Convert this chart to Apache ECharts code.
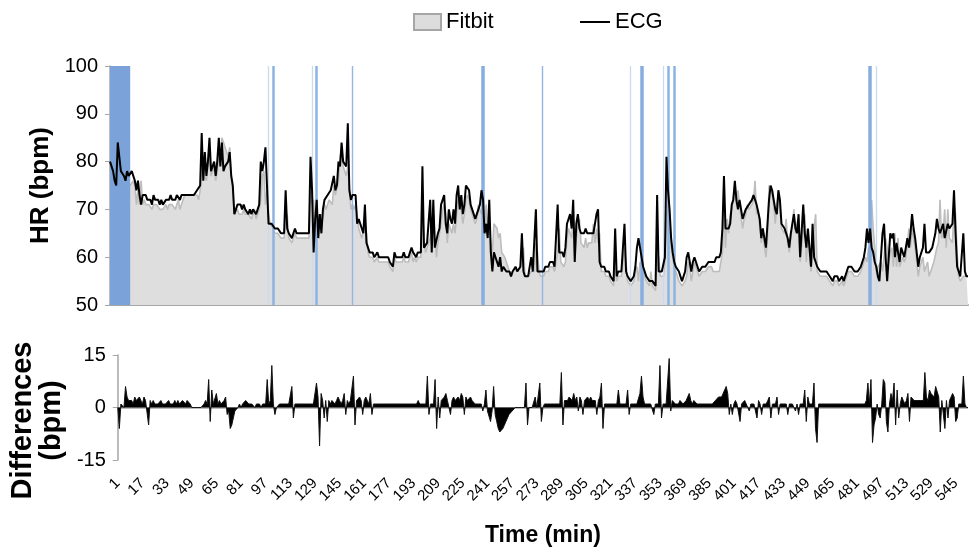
<!DOCTYPE html>
<html>
<head>
<meta charset="utf-8">
<script src="https://cdn.jsdelivr.net/npm/echarts@6/dist/echarts.min.js"></script>
<style>html,body{margin:0;padding:0;background:#fff}#c{width:970px;height:551px}</style>
</head>
<body>
<div id="c"></div>
<script>
// ECG heart rate (bpm), one value per minute
const ecg = [
80,79,78,76,75,84,81,78,78,77,
76,78,77,77,78,78,76,74,76,73,
71,73,73,73,72,72,72,71,73,72,
72,72,71,72,71,71,72,72,72,73,
72,72,72,73,73,72,73,73,73,73,
73,73,73,73,73,73,74,74,75,86,
76,82,77,80,85,78,79,80,77,80,
85,79,84,78,79,79,80,82,77,75,
69,70,71,71,71,70,71,70,70,69,
70,69,70,70,69,70,71,80,78,80,
83,75,67,67,67,67,66,66,66,66,
65,65,65,74,66,65,65,64,65,66,
65,65,65,65,65,65,65,65,65,81,
74,61,68,72,64,69,65,70,72,72,
73,73,74,74,77,74,75,80,79,84,
80,80,79,88,74,72,73,73,73,67,
68,68,66,65,71,63,62,61,61,61,
60,60,61,60,60,60,60,60,60,60,
59,59,58,61,60,60,60,60,60,61,
60,60,60,61,62,61,61,60,61,61,
61,79,62,62,63,63,72,61,72,62,
62,65,66,71,72,73,67,65,70,68,
67,70,67,73,75,70,73,69,71,75,
75,74,71,70,69,68,69,70,71,74,
72,65,67,64,72,61,57,61,60,59,
58,60,57,58,58,57,57,57,56,57,
57,58,57,57,58,65,57,56,56,56,
56,60,57,57,70,57,57,57,57,57,
58,58,58,59,59,59,58,58,71,61,
61,61,60,62,67,68,69,66,72,59,
67,69,66,65,65,65,66,65,65,65,
65,65,65,69,70,59,58,58,58,57,
57,57,56,56,55,66,56,57,57,57,
57,67,57,56,56,55,55,56,58,62,
64,62,60,58,57,56,56,55,55,55,
55,54,73,57,57,57,57,60,81,74,
70,64,61,59,58,58,57,56,55,56,
57,60,61,59,57,59,60,59,58,57,
57,58,58,58,58,59,59,59,59,59,
60,60,60,61,66,77,66,66,66,67,
71,72,76,72,70,72,72,68,69,70,
70,71,71,72,73,73,71,71,68,64,
66,66,62,67,72,75,74,72,70,69,
74,72,67,67,66,66,64,62,65,65,
69,66,65,69,60,60,71,65,62,66,
62,58,67,60,59,58,58,57,57,57,
57,57,57,56,56,55,56,56,56,55,
55,56,55,56,57,58,58,58,58,57,
57,57,57,58,59,60,62,66,63,66,
62,61,59,58,56,55,60,65,67,60,
55,60,65,64,65,60,63,61,59,62,
62,60,62,64,62,65,69,66,64,61,
58,60,60,62,67,61,61,61,61,62,
62,65,68,66,65,66,67,64,64,67,
66,66,67,74,65,58,57,56,56,65,
57,56,56
];

// Fitbit heart rate (bpm), one value per minute
const fitbit = [
80,85,77,75,75,78,78,76,76,75,
75,75,75,75,75,76,75,71,74,71,
76,71,72,71,71,71,71,70,71,71,
71,71,70,70,70,70,71,70,71,71,
71,71,70,71,72,70,71,72,73,73,
73,73,73,73,73,73,73,72,74,78,
80,77,76,79,81,77,77,79,76,78,
82,81,85,84,84,82,81,83,77,74,
69,69,70,69,69,69,70,69,69,69,
69,68,69,70,68,69,70,72,77,78,
71,74,69,67,67,66,65,65,65,65,
64,64,64,68,69,64,64,63,64,65,
64,64,64,64,64,64,64,64,64,74,
71,72,64,70,67,67,69,68,71,70,
71,72,72,71,75,73,73,76,81,82,
79,78,77,79,79,70,71,70,71,69,
66,65,64,64,67,65,61,60,60,60,
59,59,60,59,59,59,59,59,59,59,
58,58,57,60,59,59,59,59,59,60,
59,59,59,60,61,59,60,59,60,60,
60,70,64,61,62,62,64,67,69,65,
60,63,63,67,70,71,69,63,67,66,
65,67,65,69,72,72,70,67,69,72,
73,72,70,69,68,67,68,71,70,69,
73,66,71,65,66,63,61,67,67,66,
64,65,61,61,60,59,58,58,56,57,
57,58,57,57,58,58,62,56,56,56,
56,57,57,57,63,61,57,56,56,56,
57,57,57,58,58,58,57,57,61,66,
59,59,58,59,64,66,65,64,69,60,
64,67,68,63,63,62,64,62,63,63,
63,67,63,66,63,65,57,57,57,56,
56,56,55,55,54,61,55,56,56,56,
56,62,59,55,55,54,54,55,57,58,
55,59,59,57,56,55,55,54,57,54,
54,53,61,60,56,56,56,59,67,75,
68,62,60,58,57,56,55,55,54,54,
55,56,59,58,55,57,59,58,57,56,
56,57,57,57,57,58,58,58,57,57,
57,57,57,57,61,71,62,68,65,69,
70,70,75,71,74,71,71,66,68,69,
71,70,70,71,72,76,69,70,70,63,
65,65,60,64,75,74,73,71,67,71,
73,71,66,66,65,68,63,61,64,64,
70,65,67,68,59,59,66,69,59,65,
61,57,60,66,69,57,57,56,56,56,
56,56,56,55,55,54,55,55,55,54,
54,55,54,55,56,57,57,57,57,56,
56,56,56,57,58,59,60,59,62,58,
72,66,62,57,58,58,59,57,60,64,
62,59,61,62,58,65,58,64,58,59,
60,59,60,60,66,62,66,64,62,59,
56,58,58,60,57,58,59,56,57,58,
59,59,62,63,72,64,65,70,62,70,
64,64,63,71,69,61,56,55,55,56,
56,56,56
];

// Differences ECG - Fitbit (bpm), one value per minute
const differences = [
0,-6,1,1,0,6,3,2,2,2,
1,3,2,2,3,2,1,3,2,2,
-5,2,1,2,1,1,1,1,2,1,
1,1,1,2,1,1,1,2,1,2,
1,1,2,2,1,2,2,1,0,0,
0,0,0,0,0,0,1,2,1,8,
-4,5,1,1,4,1,2,1,1,2,
3,-2,-1,-6,-5,-3,-1,-1,0,1,
0,1,1,2,2,1,1,1,1,0,
1,1,1,0,1,1,1,8,1,2,
12,1,-2,0,0,1,1,1,1,1,
1,1,1,6,-3,1,1,1,1,1,
1,1,1,1,1,1,1,1,1,7,
3,-11,4,2,-3,2,-4,2,1,2,
2,1,2,3,2,1,2,4,-2,2,
1,2,2,9,-5,2,2,3,2,-2,
2,3,2,1,4,-2,1,1,1,1,
1,1,1,1,1,1,1,1,1,1,
1,1,1,1,1,1,1,1,1,1,
1,1,1,1,1,2,1,1,1,1,
1,9,-2,1,1,1,8,-6,3,-3,
2,2,3,4,2,2,-2,2,3,2,
2,3,2,4,3,-2,3,2,2,3,
2,2,1,1,1,1,1,-1,1,5,
-1,-1,-4,-1,6,-2,-4,-6,-7,-7,
-6,-5,-4,-3,-2,-2,-1,-1,0,0,
0,0,0,0,0,7,-5,0,0,0,
0,3,0,0,7,-4,0,1,1,1,
1,1,1,1,1,1,1,1,10,-5,
2,2,2,3,3,2,4,2,3,-1,
3,2,-2,2,2,3,2,3,2,2,
2,-2,2,3,7,-6,1,1,1,1,
1,1,1,1,1,5,1,1,1,1,
1,5,-2,1,1,1,1,1,1,4,
9,3,1,1,1,1,1,1,-2,1,
1,1,12,-3,1,1,1,1,14,-1,
2,2,1,1,1,2,2,1,1,2,
2,4,2,1,2,2,1,1,1,1,
1,1,1,1,1,1,1,1,2,2,
3,3,3,4,5,6,4,-2,1,-2,
1,2,1,1,-4,1,1,2,1,1,
-1,1,1,1,1,-3,2,1,-2,1,
1,1,2,3,-3,1,1,1,3,-2,
1,1,1,1,1,-2,1,1,1,1,
-1,1,-2,1,1,1,5,-4,3,1,
1,1,7,-6,-10,1,1,1,1,1,
1,1,1,1,1,1,1,1,1,1,
1,1,1,1,1,1,1,1,1,1,
1,1,1,1,1,1,2,7,1,8,
-10,-5,-3,1,-2,-3,1,8,7,-4,
-7,1,4,2,7,-5,5,-3,1,3,
2,1,2,4,-4,3,3,2,2,2,
2,2,2,2,10,3,2,5,4,4,
3,6,6,3,-7,2,2,-6,2,-3,
2,2,4,3,-4,-3,1,1,1,9,
1,0,0
];

// x tick labels (minutes)
const tickLabels = ['1','17','33','49','65','81','97','113','129','145','161','177','193','209','225','241','257','273','289','305','321','337','353','369','385','401','417','433','449','465','481','497','513','529','545'];

// highlighted periods (minutes)
const bandRanges = [['1','14']];
const strongMinutes = ['241','343','490'];
const mediumMinutes = ['106','134','360','364'];
const thinMinutes = ['157','279'];
const lightMinutes = ['103','131','336','357','494'];

const minutes = ecg.map((_, i) => String(i + 1));

const FONT = '"Liberation Sans", Arial, sans-serif';

function vline(list, color, width) {
  return list.map(m => ({ xAxis: m, lineStyle: { color: color, width: width, type: 'solid' } }));
}

const chart = echarts.init(document.getElementById('c'), null, { renderer: 'canvas' });
chart.setOption({
  animation: false,
  backgroundColor: '#ffffff',
  legend: [
    {
      left: 408, top: 6, itemWidth: 27, itemHeight: 16,
      textStyle: { fontFamily: FONT, fontSize: 22, color: '#000' },
      data: [{ name: 'Fitbit', icon: 'rect', itemStyle: { color: '#DDDDDD', borderColor: '#A6A6A6', borderWidth: 2 } }]
    },
    {
      left: 575, top: 6, itemWidth: 30, itemHeight: 16,
      textStyle: { fontFamily: FONT, fontSize: 22, color: '#000' },
      data: [{ name: 'ECG', icon: 'path://M0,0H30V2H0Z', itemStyle: { color: '#000' } }]
    }
  ],
  grid: [
    { left: 110, right: 2, top: 66, height: 239 },
    { left: 110, right: 2, top: 355, height: 105 }
  ],
  xAxis: [
    {
      type: 'category', gridIndex: 0, data: minutes, boundaryGap: false,
      axisLine: { lineStyle: { color: '#A6A6A6', width: 2 } },
      axisTick: { show: false }, axisLabel: { show: false }, splitLine: { show: false }
    },
    {
      type: 'category', gridIndex: 1, data: minutes, boundaryGap: false,
      axisLine: { show: false }, axisTick: { show: false }, splitLine: { show: false },
      axisLabel: {
        interval: (idx, val) => tickLabels.includes(val),
        rotate: 45, fontSize: 15, fontFamily: FONT, color: '#000', margin: 21
      },
      name: 'Time (min)', nameLocation: 'middle', nameGap: 64,
      nameTextStyle: { fontFamily: FONT, fontSize: 23, fontWeight: 'bold', color: '#000' }
    }
  ],
  yAxis: [
    {
      type: 'value', gridIndex: 0, min: 50, max: 100, interval: 10,
      axisLine: { show: true, lineStyle: { color: '#A6A6A6', width: 1.5 } },
      axisTick: { show: true, length: 5, lineStyle: { color: '#A6A6A6' } },
      splitLine: { show: false },
      axisLabel: { fontSize: 20, fontFamily: FONT, color: '#000', margin: 12 },
      name: 'HR (bpm)', nameLocation: 'middle', nameGap: 55,
      nameTextStyle: { fontFamily: FONT, fontSize: 26, fontWeight: 'bold', color: '#000' }
    },
    {
      type: 'value', gridIndex: 1, min: -15, max: 15, interval: 15,
      axisLine: { show: true, lineStyle: { color: '#A6A6A6', width: 1.5 } },
      axisTick: { show: true, length: 5, lineStyle: { color: '#A6A6A6' } },
      splitLine: { show: false },
      axisLabel: { fontSize: 20, fontFamily: FONT, color: '#000', margin: 12 },
      name: 'Differences\n(bpm)', nameLocation: 'middle', nameGap: 50,
      nameTextStyle: { fontFamily: FONT, fontSize: 29, fontWeight: 'bold', color: '#000', lineHeight: 29, padding: [0, 26, 0, 0] }
    }
  ],
  series: [
    {
      name: 'Fitbit', type: 'line', xAxisIndex: 0, yAxisIndex: 0, data: fitbit,
      symbol: 'none', z: 1,
      lineStyle: { color: '#BDBDBD', width: 1.6 },
      areaStyle: { color: '#DEDEDE', opacity: 1, origin: 'start' },
      markArea: {
        silent: true, z: 3,
        itemStyle: { color: '#7BA3D9', opacity: 1 },
        data: bandRanges.map(r => [{ xAxis: r[0] }, { xAxis: r[1] }])
      },
      markLine: {
        silent: true, z: 3, symbol: ['none', 'none'], label: { show: false },
        data: [].concat(
          vline(lightMinutes, '#C9DBF2', 1.3),
          vline(thinMinutes, '#93B6E3', 1.4),
          vline(mediumMinutes, '#8DB3E2', 2.5),
          vline(strongMinutes, '#86AEE0', 3.5)
        )
      }
    },
    {
      name: 'ECG', type: 'line', xAxisIndex: 0, yAxisIndex: 0, data: ecg,
      symbol: 'none', z: 10,
      lineStyle: { color: '#000', width: 2 }
    },
    {
      name: 'Differences', type: 'line', xAxisIndex: 1, yAxisIndex: 1, data: differences,
      symbol: 'none', z: 2,
      lineStyle: { color: '#111', width: 1 },
      areaStyle: { color: '#000', opacity: 1 },
      markLine: {
        silent: true, z: 1, symbol: ['none', 'none'], label: { show: false },
        lineStyle: { color: '#A6A6A6', width: 1.5, type: 'solid' },
        data: [{ yAxis: 0 }]
      }
    }
  ]
});
</script>
</body>
</html>
